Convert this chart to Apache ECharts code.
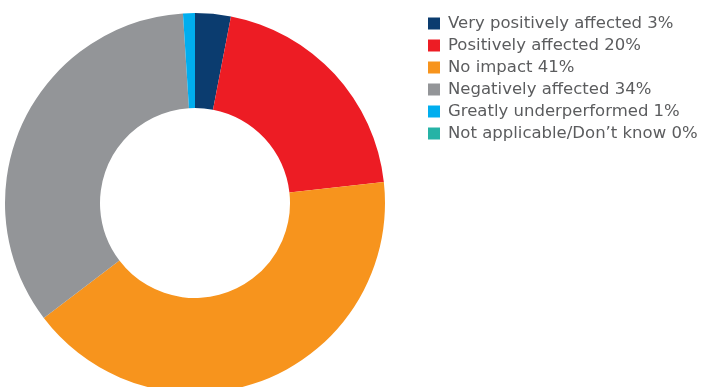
<!DOCTYPE html>
<html>
<head>
<meta charset="utf-8">
<script src="https://cdn.jsdelivr.net/npm/echarts@6/dist/echarts.min.js"></script>
<style>
  html, body { margin: 0; padding: 0; background: #fff; }
  #chart { width: 705px; height: 387px; }
</style>
</head>
<body>
<div id="chart"></div>
<script>
// data
var categories = [
  "Very positively affected",
  "Positively affected",
  "No impact",
  "Negatively affected",
  "Greatly underperformed",
  "Not applicable/Don\u2019t know"
];
var values = [3, 20, 41, 34, 1, 0];
var colors = ["#0b3c6f", "#ed1c24", "#f7941d", "#939598", "#00aeef", "#26b3a6"];

var chartDom = document.getElementById("chart");
var chart = echarts.init(chartDom, null, { renderer: "canvas" });

var pieData = categories.map(function (name, i) {
  return { name: name, value: values[i], itemStyle: { color: colors[i] } };
});

var option = {
  backgroundColor: "#fff",
  animation: false,
  legend: {
    orient: "vertical",
    left: 423,
    top: 9,
    icon: "rect",
    itemWidth: 12,
    itemHeight: 12,
    itemGap: 3,
    selectedMode: false,
    textStyle: {
      fontFamily: "DejaVu Sans, sans-serif",
      fontSize: 16.5,
      lineHeight: 19,
      color: "#5b5c5e",
      padding: [0, 0, 0, 3]
    },
    formatter: function (name) {
      var i = categories.indexOf(name);
      return name + " " + values[i] + "%";
    },
    data: categories
  },
  series: [
    {
      type: "pie",
      center: [195, 203],
      radius: [95, 190],
      startAngle: 90,
      clockwise: true,
      label: { show: false },
      labelLine: { show: false },
      emphasis: { disabled: true },
      itemStyle: { borderWidth: 0 },
      data: pieData
    }
  ]
};

chart.setOption(option);
</script>
</body>
</html>
